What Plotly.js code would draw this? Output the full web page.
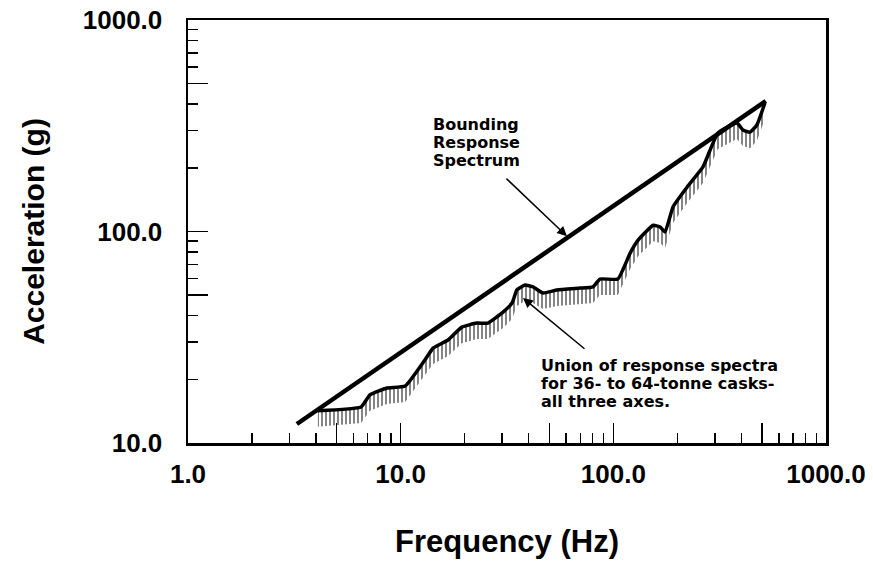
<!DOCTYPE html>
<html>
<head>
<meta charset="utf-8">
<script src="https://cdn.plot.ly/plotly-3.0.1.min.js"></script>
<style>html,body{margin:0;padding:0;background:#fff;}#chart{width:873px;height:562px;}</style>
</head>
<body>
<div id="chart"></div>
<script>
// Bounding response spectrum (straight line on log-log axes)
const boundFreq = [3.25, 521];
const boundAccel = [12.3, 414];

// Union of response spectra for 36- to 64-tonne casks, all three axes
const unionFreq = [4.08, 6.51, 7.17, 8.62, 10.5, 13.0, 14.2, 16.7, 19.4, 22.8, 25.7, 30.3, 33.4, 35.2, 38.4, 41.9, 46.7, 54.3, 69.7, 80.2, 86.5, 105, 120, 131, 154, 166, 175, 191, 222, 264, 310, 381, 407, 439, 473, 516];
const unionAccel = [14.2, 14.8, 16.9, 18.2, 18.6, 24.7, 28.1, 30.7, 35.3, 36.9, 36.9, 41.6, 45.9, 52.9, 55.8, 54.7, 51.2, 52.9, 54.0, 54.7, 59.6, 59.6, 79.1, 91.2, 107, 105, 99.5, 131, 162, 202, 292, 326, 302, 295, 319, 405];

// Tick labels
const xTickVals = [1, 5, 10, 50, 100, 500, 1000];
const xTickText = ['1.0', '', '10.0', '', '100.0', '', '1000.0'];
const yTickVals = [10, 50, 100, 500, 1000];
const yTickText = ['10.0', '', '100.0', '', '1000.0'];
const minorVals = [2, 3, 4, 6, 7, 8, 9, 20, 30, 40, 60, 70, 80, 90, 200, 300, 400, 600, 700, 800, 900];

// Annotation text lines
const boundLabel = ['Bounding', 'Response', 'Spectrum'];
const unionLabel = ['Union of response spectra', 'for 36- to 64-tonne casks-', 'all three axes.'];

const HATCH_RATIO = 0.84; // depth of the hatching under the union curve
const hatchLower = unionAccel.map(v => v * HATCH_RATIO);

const traces = [
  {x: unionFreq, y: hatchLower, mode: 'lines', line: {width: 0, color: 'rgba(0,0,0,0)'}, hoverinfo: 'skip', showlegend: false},
  {x: unionFreq, y: unionAccel, mode: 'lines', fill: 'tonexty', fillcolor: 'rgba(0,0,0,0)',
   fillpattern: {shape: '|', fgcolor: '#666', bgcolor: 'rgba(0,0,0,0)', size: 4, solidity: 0.4},
   line: {color: '#000', width: 3.5, shape: 'spline', smoothing: 0.4}, showlegend: false},
  {x: boundFreq, y: boundAccel, mode: 'lines', line: {color: '#000', width: 4.5}, showlegend: false}
];

const font = 'Liberation Sans, Arial, Helvetica, sans-serif';
const noteFont = {size: 16, family: 'DejaVu Sans, sans-serif', weight: 'bold', color: '#000'};
const L = Math.log10;

// paper position helpers for annotation placement (plot area 188..826 x 20..443)
const px = p => (p - 188) / 638;
const py = p => (443 - p) / 423;

const annotations = [];
boundLabel.forEach((t, i) => annotations.push({xref: 'paper', yref: 'paper', x: px(431), y: py(124 + 18 * i),
  xanchor: 'left', yanchor: 'middle', showarrow: false, text: t, font: noteFont}));
unionLabel.forEach((t, i) => annotations.push({xref: 'paper', yref: 'paper', x: px(539), y: py(365 + 18 * i),
  xanchor: 'left', yanchor: 'middle', showarrow: false, text: t, font: noteFont}));
annotations.push({xref: 'x', yref: 'y', x: L(60.5), y: L(95), text: '', showarrow: true, arrowhead: 2, arrowsize: 1.3, arrowwidth: 1.5, arrowcolor: '#000', ax: -62, ay: -59});
annotations.push({xref: 'x', yref: 'y', x: L(37.6), y: L(48.5), text: '', showarrow: true, arrowhead: 2, arrowsize: 1.3, arrowwidth: 1.5, arrowcolor: '#000', ax: 63, ay: 52});

const layout = {
  width: 873, height: 562,
  margin: {l: 188, r: 47, t: 20, b: 119},
  paper_bgcolor: '#fff', plot_bgcolor: '#fff',
  showlegend: false,
  font: {family: font, color: '#000'},
  xaxis: {
    type: 'log', range: [0, 3],
    tickvals: xTickVals, ticktext: xTickText,
    ticks: 'inside', ticklen: 20, tickwidth: 1.5, tickcolor: '#000',
    minor: {tickvals: minorVals, ticks: 'inside', ticklen: 10, tickwidth: 1.5, tickcolor: '#000'},
    showline: true, linewidth: 2.5, linecolor: '#000', mirror: true,
    showgrid: false, zeroline: false,
    tickfont: {size: 26, family: font, weight: 'bold'},
    ticklabelstandoff: 6,
    title: {text: 'Frequency (Hz)', font: {size: 31, family: font, weight: 'bold'}, standoff: 43}
  },
  yaxis: {
    type: 'log', range: [1, 3],
    tickvals: yTickVals, ticktext: yTickText,
    ticks: 'inside', ticklen: 20, tickwidth: 1.5, tickcolor: '#000',
    minor: {tickvals: minorVals.map(v => v * 10), ticks: 'inside', ticklen: 10, tickwidth: 1.5, tickcolor: '#000'},
    showline: true, linewidth: 2.5, linecolor: '#000', mirror: true,
    showgrid: false, zeroline: false,
    tickfont: {size: 26, family: font, weight: 'bold'},
    ticklabelstandoff: 18,
    title: {text: 'Acceleration (g)', font: {size: 30, family: font, weight: 'bold'}, standoff: 30}
  },
  annotations: annotations
};

Plotly.newPlot('chart', traces, layout, {displayModeBar: false, staticPlot: true});
</script>
</body>
</html>
